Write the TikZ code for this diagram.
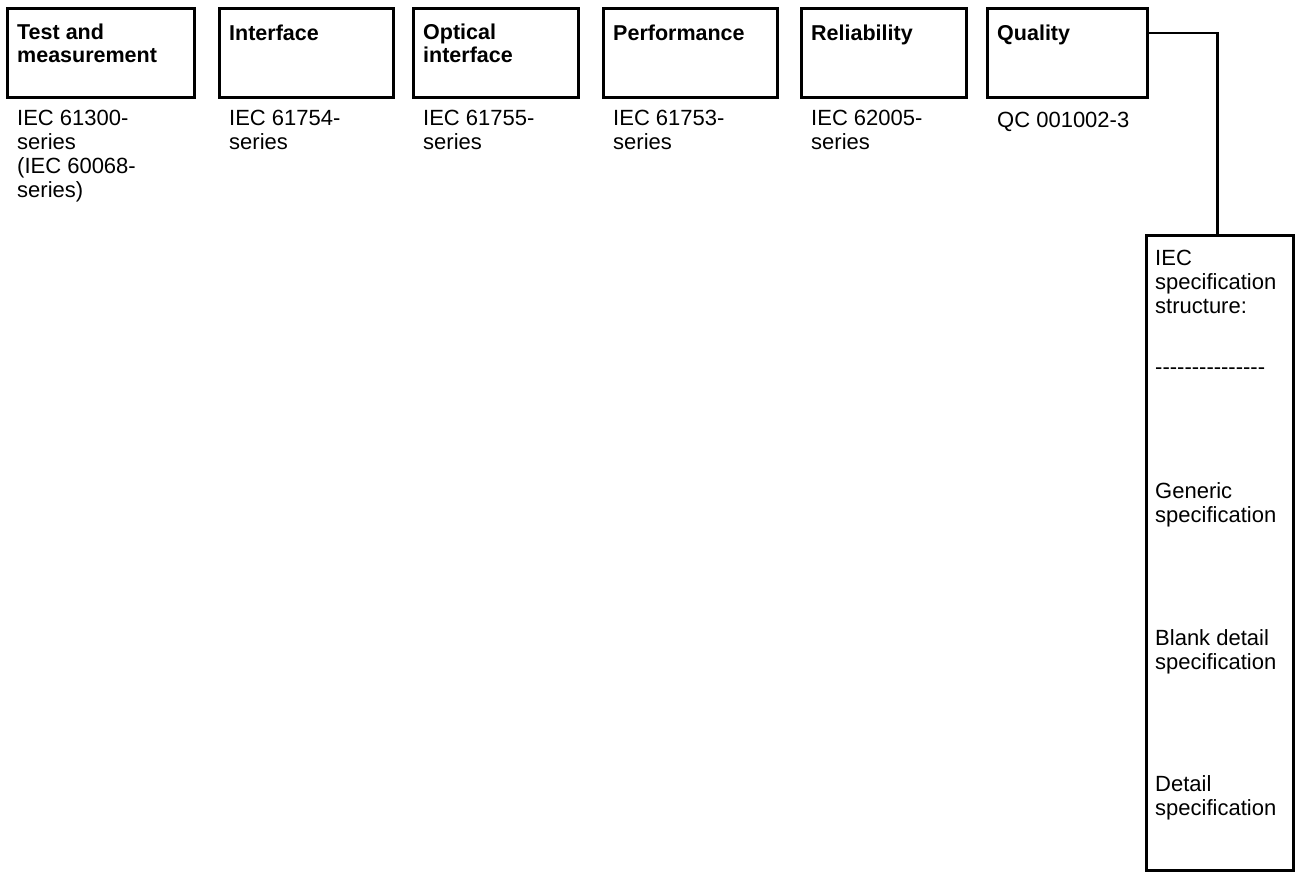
\documentclass[tikz,border=0pt]{standalone}
\usepackage{fontspec}
\setmainfont{Liberation Sans}
\begin{document}
\begin{tikzpicture}[x=1pt, y=-1pt]
    % Define styles (texts are placed by the baseline of their first line)
    \tikzset{
      specbox/.style={draw, line width=2.8pt, rectangle, anchor=north west, inner sep=0pt},
      title/.style={anchor=north west, yshift=16.1pt, align=left, inner sep=0pt,
        font=\bfseries\fontsize{21.5}{23}\selectfont, execute at begin node=\strut},
      series/.style={anchor=north west, yshift=16.8pt, align=left, inner sep=0pt,
        font=\fontsize{22}{24}\selectfont, execute at begin node=\strut}
    }

    % Fix the page size
    \useasboundingbox (0, 0) rectangle (1297, 871);

    % Define a macro to draw a group box with its title and the series below it
    \def\drawGroup#1#2#3#4#5{ % #1 = name, #2 = left x, #3 = width, #4 = title, #5 = series
      \node[specbox, minimum width=#3, minimum height=89] (#1) at (#2, 7) {}; % Box
      \node[title] (#1-title) at ([xshift=11pt, yshift=-33pt]#1.north west) {#4}; % Title inside
      \node[series] (#1-series) at ([xshift=11pt, yshift=-120pt]#1.north west) {#5}; % Series below
    }

    % Draw the groups along the top
    \drawGroup{test}{6}{187}{Test and\\measurement}{IEC 61300-\\series\\(IEC 60068-\\series)}
    \drawGroup{interface}{218}{174}{Interface}{IEC 61754-\\series}
    \drawGroup{optical}{412}{165}{Optical\\interface}{IEC 61755-\\series}
    \drawGroup{performance}{602}{174}{Performance}{IEC 61753-\\series}
    \drawGroup{reliability}{800}{165}{Reliability}{IEC 62005-\\series}
    \drawGroup{quality}{986}{160}{Quality}{QC 001002-3}

    % Draw the tall box with the specification structure
    \node[specbox, minimum width=147, minimum height=635] (structure) at (1145, 234) {};
    \node[series] (structure-head) at ([xshift=10pt, yshift=-33pt]structure.north west) {IEC\\specification\\structure:};
    \node[series] (structure-rule) at ([xshift=10pt, yshift=-140pt]structure.north west) {-{}-{}-{}-{}-{}-{}-{}-{}-{}-{}-{}-{}-{}-{}-};
    \node[series] (generic) at ([xshift=10pt, yshift=-265pt]structure.north west) {Generic\\specification};
    \node[series] (blank) at ([xshift=10pt, yshift=-412pt]structure.north west) {Blank detail\\specification};
    \node[series] (detail) at ([xshift=10pt, yshift=-558pt]structure.north west) {Detail\\specification};

    % Connect quality to the structure box
    \draw[line width=2.8pt] ([yshift=-26pt]quality.north east) -| ([xshift=-2.5pt]structure.north);
  \end{tikzpicture}
\end{document}
